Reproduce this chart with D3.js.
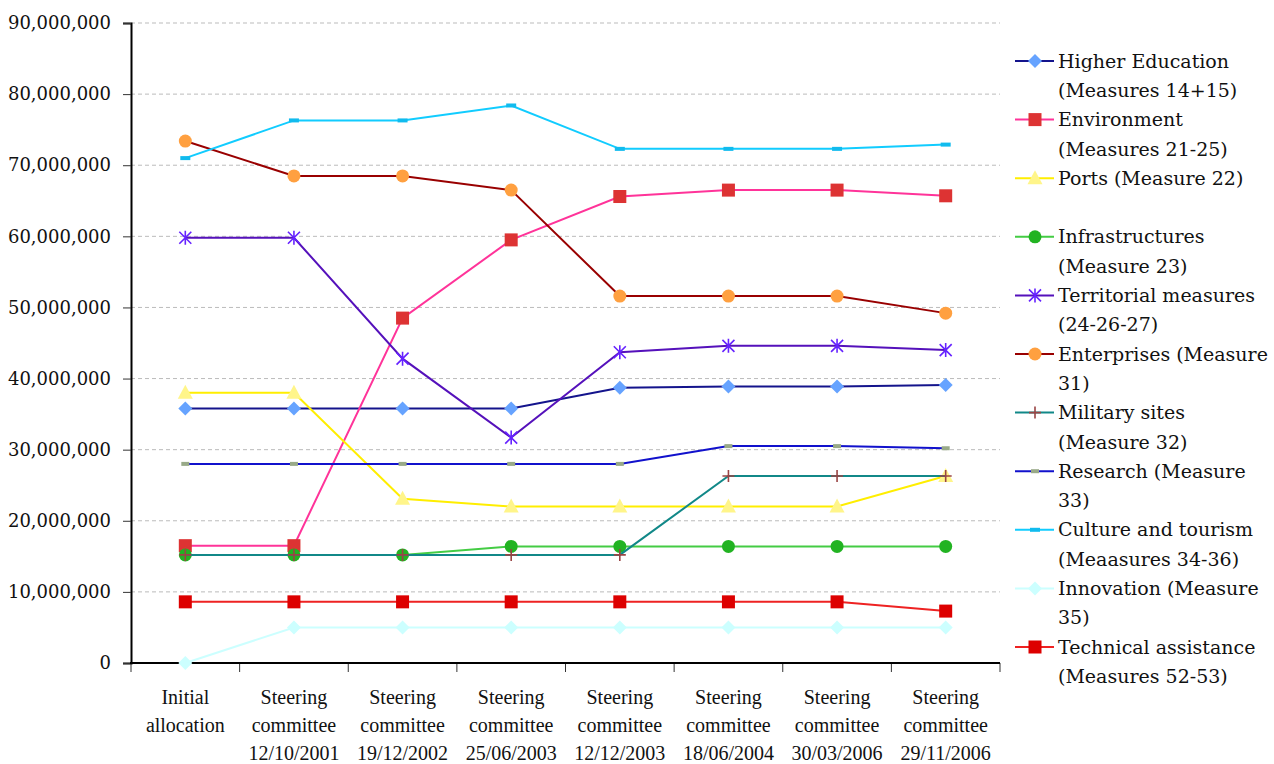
<!DOCTYPE html>
<html>
<head>
<meta charset="utf-8">
<script src="https://cdn.jsdelivr.net/npm/d3@7"></script>
<style>
  body { margin: 0; background: #fff; }
  svg text { fill: #111; }
</style>
</head>
<body>
<div id="chart"></div>
<script>
// categories (x axis), each label split on lines
const categories = [
  ["Initial", "allocation"],
  ["Steering", "committee", "12/10/2001"],
  ["Steering", "committee", "19/12/2002"],
  ["Steering", "committee", "25/06/2003"],
  ["Steering", "committee", "12/12/2003"],
  ["Steering", "committee", "18/06/2004"],
  ["Steering", "committee", "30/03/2006"],
  ["Steering", "committee", "29/11/2006"]
];

// values in millions
const higherEducation = [35.8, 35.8, 35.8, 35.8, 38.7, 38.9, 38.9, 39.1];
const environment     = [16.5, 16.5, 48.5, 59.5, 65.6, 66.5, 66.5, 65.7];
const ports           = [38.0, 38.0, 23.1, 22.0, 22.0, 22.0, 22.0, 26.3];
const infrastructures = [15.2, 15.2, 15.2, 16.4, 16.4, 16.4, 16.4, 16.4];
const territorial     = [59.8, 59.8, 42.8, 31.7, 43.7, 44.6, 44.6, 44.0];
const enterprises     = [73.4, 68.5, 68.5, 66.5, 51.6, 51.6, 51.6, 49.2];
const military        = [15.2, 15.2, 15.2, 15.2, 15.2, 26.3, 26.3, 26.3];
const research        = [28.0, 28.0, 28.0, 28.0, 28.0, 30.5, 30.5, 30.2];
const culture         = [71.0, 76.3, 76.3, 78.4, 72.3, 72.3, 72.3, 72.9];
const innovation      = [0, 5.0, 5.0, 5.0, 5.0, 5.0, 5.0, 5.0];
const technical       = [8.6, 8.6, 8.6, 8.6, 8.6, 8.6, 8.6, 7.3];

const yTicks = [0, 10, 20, 30, 40, 50, 60, 70, 80, 90];

const series = [
  {name: ["Higher Education", "(Measures 14+15)"], values: higherEducation, line: "#14148c", fill: "#66a3ff", marker: "diamond"},
  {name: ["Environment", "(Measures 21-25)"], values: environment, line: "#ff3399", fill: "#dd3333", marker: "square"},
  {name: ["Ports (Measure 22)", ""], values: ports, line: "#ffee00", fill: "#fff58a", marker: "triangle"},
  {name: ["Infrastructures", "(Measure 23)"], values: infrastructures, line: "#44cc44", fill: "#22b322", marker: "circle"},
  {name: ["Territorial measures", "(24-26-27)"], values: territorial, line: "#5511bb", fill: "#6622ff", marker: "asterisk"},
  {name: ["Enterprises (Measure", "31)"], values: enterprises, line: "#990000", fill: "#ffa040", marker: "circle"},
  {name: ["Military sites", "(Measure 32)"], values: military, line: "#118888", fill: "#994444", marker: "plus"},
  {name: ["Research (Measure", "33)"], values: research, line: "#1111cc", fill: "#99aa88", marker: "dash"},
  {name: ["Culture and tourism", "(Meaasures 34-36)"], values: culture, line: "#11ccff", fill: "#11bbee", marker: "bar"},
  {name: ["Innovation (Measure", "35)"], values: innovation, line: "#ccffff", fill: "#ccffff", marker: "diamond"},
  {name: ["Technical assistance", "(Measures 52-53)"], values: technical, line: "#ee2222", fill: "#dd0000", marker: "square"}
];

const width = 1274;
const height = 764;
const margin = {left: 131, right: 274, top: 23, bottom: 101};

const svg = d3.select("#chart")
  .append("svg")
  .attr("width", width)
  .attr("height", height);

const x = d3.scaleBand()
  .domain(d3.range(categories.length))
  .range([margin.left, width - margin.right]);

const y = d3.scaleLinear()
  .domain([0, 90])
  .range([height - margin.bottom, margin.top]);

// gridlines
svg.append("g")
  .selectAll("line")
  .data(yTicks.filter(d => d > 0))
  .enter()
  .append("line")
  .attr("x1", margin.left)
  .attr("x2", width - margin.right)
  .attr("y1", d => y(d))
  .attr("y2", d => y(d))
  .attr("stroke", "#bbbbbb")
  .attr("stroke-width", 1)
  .attr("stroke-dasharray", "4,3");

// y axis
const yAxis = svg.append("g")
  .attr("transform", "translate(" + margin.left + ",0)")
  .call(d3.axisLeft(y).tickValues(yTicks).tickSize(8).tickPadding(12)
    .tickFormat(d => d3.format(",")(d * 1000000)));
yAxis.select(".domain").attr("stroke", "#000").attr("stroke-width", 2);
yAxis.selectAll(".tick line").attr("stroke", "#333");
yAxis.selectAll("text")
  .style("font-family", "'DejaVu Serif', serif")
  .style("font-size", "18px")
  .attr("fill", "#111");

// x axis: ticks on band boundaries
const bounds = d3.range(categories.length + 1).map(i => margin.left + i * x.bandwidth());
svg.append("g")
  .selectAll("line")
  .data(bounds)
  .enter()
  .append("line")
  .attr("x1", d => d)
  .attr("x2", d => d)
  .attr("y1", y(0))
  .attr("y2", y(0) + 9)
  .attr("stroke", "#333");
svg.append("line")
  .attr("x1", margin.left - 1)
  .attr("x2", width - margin.right)
  .attr("y1", y(0))
  .attr("y2", y(0))
  .attr("stroke", "#000")
  .attr("stroke-width", 2);

const xLabels = svg.append("g")
  .selectAll("text")
  .data(categories)
  .enter()
  .append("text")
  .attr("text-anchor", "middle")
  .style("font-family", "'Liberation Serif', serif")
  .style("font-size", "20px");
xLabels.each(function(d, i) {
  const t = d3.select(this);
  d.forEach((line, j) => {
    t.append("tspan")
      .attr("x", x(i) + x.bandwidth() / 2)
      .attr("y", 704 + j * 28)
      .text(line);
  });
});

// marker drawing
function drawMarker(g, type, fill) {
  if (type === "diamond") {
    g.append("path").attr("d", "M0,-7L7,0L0,7L-7,0Z").attr("fill", fill);
  } else if (type === "square") {
    g.append("rect").attr("x", -6.5).attr("y", -6.5).attr("width", 13).attr("height", 13).attr("fill", fill);
  } else if (type === "triangle") {
    g.append("path").attr("d", "M0,-8L7.5,6L-7.5,6Z").attr("fill", fill);
  } else if (type === "circle") {
    g.append("circle").attr("r", 6.5).attr("fill", fill);
  } else if (type === "asterisk") {
    g.append("path").attr("d", "M-6,-6L6,6M-6,6L6,-6M0,-7L0,7").attr("stroke", fill).attr("stroke-width", 1.6);
  } else if (type === "plus") {
    g.append("path").attr("d", "M-6,0L6,0M0,-6L0,6").attr("stroke", fill).attr("stroke-width", 1.6);
  } else if (type === "dash") {
    g.append("rect").attr("x", -4).attr("y", -2).attr("width", 8).attr("height", 4).attr("fill", fill);
  } else if (type === "bar") {
    g.append("rect").attr("x", -5).attr("y", -2).attr("width", 10).attr("height", 4).attr("fill", fill);
  }
}

const line = d3.line()
  .x((d, i) => x(i) + x.bandwidth() / 2)
  .y(d => y(d));

series.forEach(s => {
  const g = svg.append("g");
  g.append("path")
    .datum(s.values)
    .attr("d", line)
    .attr("fill", "none")
    .attr("stroke", s.line)
    .attr("stroke-width", 2);
  s.values.forEach((v, i) => {
    const m = g.append("g").attr("transform", "translate(" + (x(i) + x.bandwidth() / 2) + "," + y(v) + ")");
    drawMarker(m, s.marker, s.fill);
  });
});

// legend
const legendRows = [0, 2, 4, 6, 8, 10, 12, 14, 16, 18, 20];
const legend = svg.append("g");
series.forEach((s, k) => {
  const cy = 61 + legendRows[k] * 29.3;
  const g = legend.append("g");
  g.append("line")
    .attr("x1", 1015).attr("x2", 1054)
    .attr("y1", cy).attr("y2", cy)
    .attr("stroke", s.line).attr("stroke-width", 2);
  drawMarker(g.append("g").attr("transform", "translate(1035," + cy + ")"), s.marker, s.fill);
  s.name.forEach((t, j) => {
    if (!t) return;
    g.append("text")
      .attr("x", 1058)
      .attr("y", cy + j * 29.3)
      .attr("dy", "0.35em")
      .style("font-family", "'DejaVu Serif', serif")
      .style("font-size", "19px")
      .text(t);
  });
});
</script>
</body>
</html>
